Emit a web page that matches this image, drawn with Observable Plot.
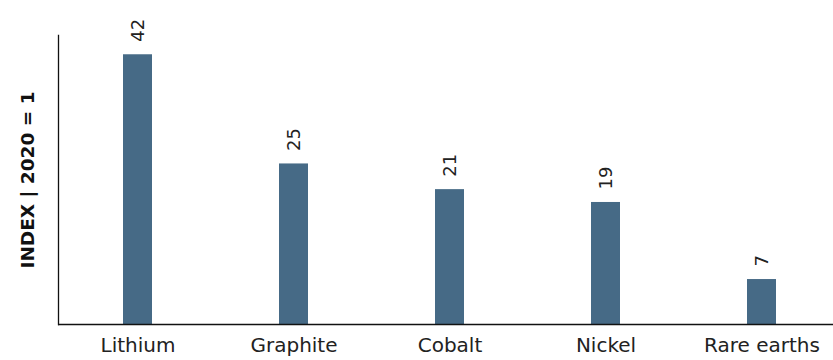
<!DOCTYPE html>
<html><head><meta charset="utf-8">
<script src="https://cdn.jsdelivr.net/npm/d3@7"></script>
<script src="https://cdn.jsdelivr.net/npm/@observablehq/plot@0.6"></script>
<style>body{margin:0;background:#fff;} svg{overflow:visible}</style>
</head><body><div id="chart"></div>
<script>
const minerals = ["Lithium", "Graphite", "Cobalt", "Nickel", "Rare earths"];
const indexValues = [42, 25, 21, 19, 7];
const yLabel = "INDEX | 2020 = 1";
const data = minerals.map((m, i) => ({mineral: m, value: indexValues[i]}));
const font = "'DejaVu Sans', sans-serif";
const chart = Plot.plot({
  width: 833, height: 360,
  marginLeft: 58, marginRight: -7, marginTop: 35, marginBottom: 36,
  style: {fontFamily: font, background: "#fff", overflow: "visible"},
  x: {domain: minerals, paddingInner: 0.815, paddingOuter: 0.41, label: null},
  y: {domain: [0, 45], axis: null},
  marks: [
    Plot.barY(data, {x: "mineral", y: "value", fill: "#466a86"}),
    Plot.text(data, {x: "mineral", y: "value", text: d => String(d.value), rotate: -90, textAnchor: "start", dy: -13, fontSize: 18, fill: "#222", letterSpacing: 1}),
    Plot.axisX({tickSize: 0, tickPadding: 13, fontSize: 20, fill: "#222", label: null, letterSpacing: 2.3}),
    Plot.ruleY([0], {stroke: "#111", strokeWidth: 1.3}),
    Plot.frame({anchor: "left", stroke: "#111", strokeWidth: 1.3}),
    Plot.text([yLabel], {text: d => d, frameAnchor: "left", textAnchor: "middle", rotate: -90, dx: -30, fontWeight: "bold", fontSize: 18.5, fill: "#111"})
  ]
});
document.getElementById("chart").append(chart);
</script></body></html>
